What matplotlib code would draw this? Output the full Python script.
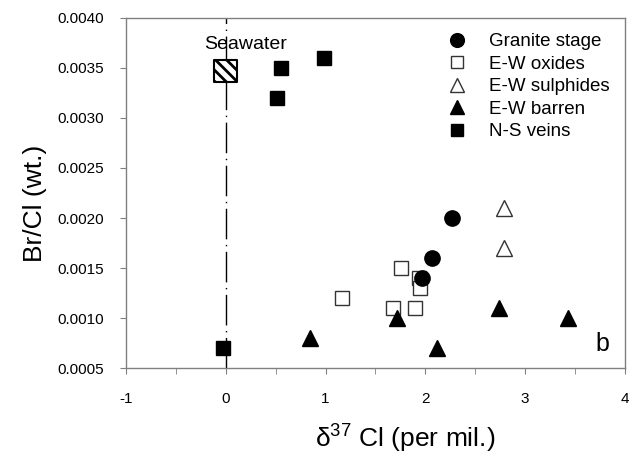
import matplotlib.pyplot as plt
from matplotlib.ticker import MultipleLocator, FormatStrFormatter

plt.rcParams['font.family'] = ['Liberation Sans', 'DejaVu Sans']
plt.rcParams['mathtext.fontset'] = 'custom'
plt.rcParams['mathtext.rm'] = 'Liberation Sans'
plt.rcParams['axes.unicode_minus'] = False
plt.rcParams['hatch.linewidth'] = 2.0

# delta37Cl (per mil) and Br/Cl (wt.) for each group
granite_x = [2.27, 2.07, 1.97]
granite_y = [0.0020, 0.0016, 0.0014]

oxides_x = [1.16, 1.76, 1.94, 1.95, 1.68, 1.90]
oxides_y = [0.0012, 0.0015, 0.0014, 0.0013, 0.0011, 0.0011]

sulph_x = [2.79, 2.79]
sulph_y = [0.0021, 0.0017]

barren_x = [0.84, 1.72, 2.12, 2.74, 3.43]
barren_y = [0.0008, 0.0010, 0.0007, 0.0011, 0.0010]

ns_x = [0.51, 0.55, 0.98, -0.03]
ns_y = [0.0032, 0.0035, 0.0036, 0.0007]

seawater_x = 0.0
seawater_y = 0.00347

fig = plt.figure(figsize=(6.38, 4.61), dpi=100)
ax = fig.add_axes([0.1975, 0.2017, 0.7821, 0.7593])

ax.axvline(seawater_x, color='black', lw=1, dashes=(22, 4, 1, 4), zorder=1)

edge = '#333333'
ax.plot(granite_x, granite_y, 'o', ms=11, color='black', ls='none', label='Granite stage', zorder=4)
ax.plot(oxides_x, oxides_y, 's', ms=10, mfc='white', mec=edge, mew=1, ls='none', label='E-W oxides', zorder=3)
ax.plot(sulph_x, sulph_y, '^', ms=11, mfc='white', mec=edge, mew=1, ls='none', label='E-W sulphides', zorder=3)
ax.plot(barren_x, barren_y, '^', ms=11, color='black', ls='none', label='E-W barren', zorder=4)
ax.plot(ns_x, ns_y, 's', ms=10, color='black', ls='none', label='N-S veins', zorder=3)

ax.scatter([seawater_x], [seawater_y], marker='s', s=270, facecolor='white',
           edgecolor='black', linewidth=1.5, hatch='\\\\\\', zorder=5)
ax.text(-0.22, 0.00373, 'Seawater', fontsize=14, ha='left', va='center')

ax.text(3.70, 0.00062, 'b', fontsize=18, ha='left', va='bottom')

ax.set_xlim(-1, 4)
ax.set_ylim(0.0005, 0.0040)
ax.xaxis.set_major_locator(MultipleLocator(1))
ax.xaxis.set_minor_locator(MultipleLocator(0.5))
ax.yaxis.set_major_locator(MultipleLocator(0.0005))
ax.yaxis.set_major_formatter(FormatStrFormatter('%.4f'))

for s in ax.spines.values():
    s.set_color('#808080')
    s.set_linewidth(1)
ax.tick_params(which='both', direction='out', length=4, color='#808080', labelsize=11)
ax.tick_params(axis='y', pad=12)
ax.tick_params(axis='x', pad=13)

ax.set_xlabel('δ$^{37}$ Cl (per mil.)', fontsize=19)
ax.set_ylabel('Br/Cl (wt.)', fontsize=19)
ax.xaxis.set_label_coords(0.56, -0.152)
ax.yaxis.set_label_coords(-0.158, 0.47)

ax.legend(loc='upper right', bbox_to_anchor=(1.0, 1.0), frameon=False, fontsize=13.5,
          handletextpad=0.75, labelspacing=0.29, markerscale=0.9, handlelength=2.0,
          borderpad=0.3)

fig.savefig('out.png', dpi=100)
